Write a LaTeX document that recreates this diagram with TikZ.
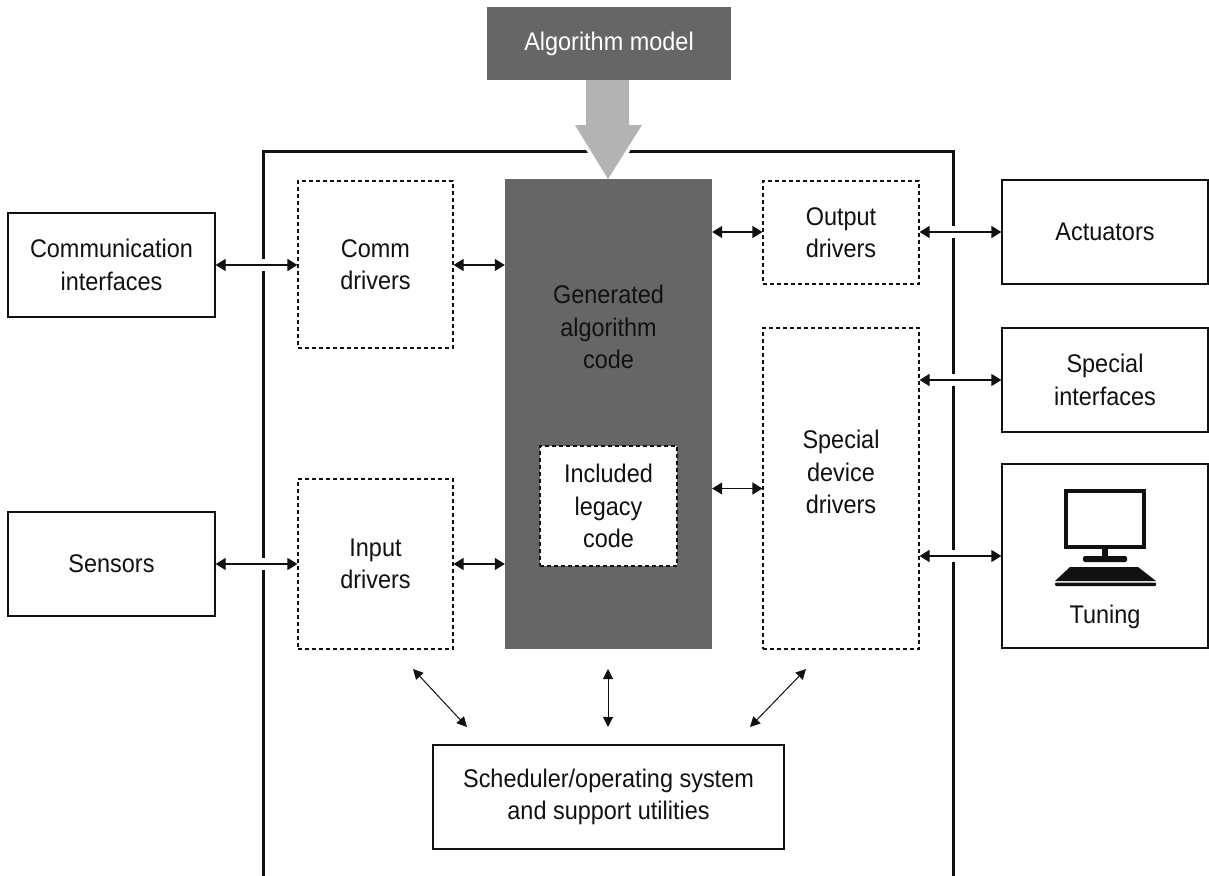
\documentclass[tikz,border=0pt]{standalone}
\usepackage{fontspec}
\setmainfont{Liberation Sans}[FakeStretch=0.92]
\usetikzlibrary{arrows.meta,calc}
\definecolor{darkfill}{HTML}{666666}
\definecolor{lightarrow}{HTML}{B3B3B3}
\definecolor{inkcol}{HTML}{111111}
\begin{document}
\begin{tikzpicture}[x=1pt,y=-1pt,
  every node/.style={font=\fontsize{25.5}{32.5}\selectfont, align=center, inner sep=0pt, text=inkcol},
  solidbox/.style={draw=inkcol, line width=1.3pt},
  dashbox/.style={draw=inkcol, line width=1.1pt, dash pattern=on 4pt off 3pt, fill=white},
  conn/.style={inkcol, line width=1.3pt, {Triangle[length=10pt,width=12pt]}-{Triangle[length=10pt,width=12pt]}},
  diag/.style={inkcol, line width=1pt, {Triangle[length=10pt,width=10pt]}-{Triangle[length=10pt,width=10pt]}},
  gapmark/.style={fill=white}]
\useasboundingbox (0,0) rectangle (1209,875);

% outer frame
\coordinate (fl) at (263,151);
\coordinate (fr) at (953,151);
\draw[inkcol, line width=3pt] (263,885) -- (fl) -- (fr) -- (953,885);

% big arrow from the model
\path[fill=lightarrow, preaction={draw=white, line width=7pt, line join=miter}]
  (586,80) -- (586,125) -- (575,125) -- (608,179) -- (642,125) -- (629,125) -- (629,80) -- cycle;

% top model box
\node[fill=darkfill, minimum width=244pt, minimum height=73pt, text=white] (model) at (609,43.5) {Algorithm model};

% external boxes
\node[solidbox, minimum width=207pt, minimum height=104pt] (comm) at (111.5,265) {Communication\\interfaces};
\node[solidbox, minimum width=207pt, minimum height=104pt] (sensors) at (111.5,564) {Sensors};
\node[solidbox, minimum width=206pt, minimum height=104pt] (actuators) at (1105,232) {Actuators};
\node[solidbox, minimum width=206pt, minimum height=104pt] (specif) at (1105,380) {Special\\interfaces};
\node[solidbox, minimum width=206pt, minimum height=184pt] (tuning) at (1105,556) {};
\node (tuningtext) at (1105,617) {Tuning};

% inner boxes
\node[dashbox, minimum width=155pt, minimum height=167pt] (commdrv) at (375.5,264.5) {Comm\\drivers};
\node[dashbox, minimum width=155pt, minimum height=170pt] (inputdrv) at (375.5,564) {Input\\drivers};
\node[fill=darkfill, minimum width=207pt, minimum height=470pt] (gen) at (608.5,414) {};
\node (gentext) at (608.5,327) {Generated\\algorithm\\code};
\node[dashbox, minimum width=137pt, minimum height=120pt] (legacy) at (608.5,506) {Included\\legacy\\code};
\node[dashbox, minimum width=156pt, minimum height=103pt] (outdrv) at (841,232.5) {Output\\drivers};
\node[dashbox, minimum width=156pt, minimum height=321pt] (specdrv) at (841,488.5) {};
\node (specdrvtext) at (841,472) {Special\\device\\drivers};
\node[solidbox, minimum width=351pt, minimum height=104pt] (sched) at (608.5,797) {Scheduler/operating system\\and support utilities};

% gaps in the frame where connectors cross
\fill[gapmark] ($(fl |- comm)+(-3,-6)$) rectangle +(6,12);
\fill[gapmark] ($(fl |- sensors)+(-3,-6)$) rectangle +(6,12);
\fill[gapmark] ($(fr |- actuators)+(-3,-6)$) rectangle +(6,12);
\fill[gapmark] ($(fr |- specif)+(-3,-6)$) rectangle +(6,12);
\fill[gapmark] ($(fr |- tuning)+(-3,-6)$) rectangle +(6,12);

% connectors
\draw[conn] (comm.east) -- (commdrv.west |- comm.east);
\draw[conn] (sensors.east) -- (inputdrv.west |- sensors.east);
\draw[conn] (commdrv.east |- comm.east) -- (gen.west |- comm.east);
\draw[conn] (inputdrv.east) -- (gen.west |- inputdrv.east);
\draw[conn] (gen.east |- actuators.west) -- (outdrv.west |- actuators.west);
\draw[conn] (outdrv.east |- actuators.west) -- (actuators.west);
\draw[conn] (gen.east |- specdrv.west) -- (specdrv.west);
\draw[conn] (specdrv.east |- specif.west) -- (specif.west);
\draw[conn] (specdrv.east |- tuning.west) -- (tuning.west);

% scheduler arrows
\coordinate (s1a) at (413,669);
\coordinate (s1b) at (467,727);
\coordinate (s2a) at (608,669);
\coordinate (s2b) at (608,727);
\coordinate (s3a) at (806,669);
\coordinate (s3b) at (750,727);
\draw[diag] (s1a) -- (s1b);
\draw[diag] (s2a) -- (s2b);
\draw[diag] (s3a) -- (s3b);

% computer icon
\draw[inkcol, line width=4pt] (1066,491) rectangle (1144,547);
\fill[inkcol] (1102,549) rectangle (1108,557);
\fill[inkcol, rounded corners=1.5pt] (1083,556) rectangle (1127,562);
\fill[inkcol] (1070,567) -- (1138,567) -- (1156,581) -- (1055,581) -- cycle;
\fill[inkcol, rounded corners=1pt] (1055,582.5) rectangle (1156,586);
\end{tikzpicture}
\end{document}
